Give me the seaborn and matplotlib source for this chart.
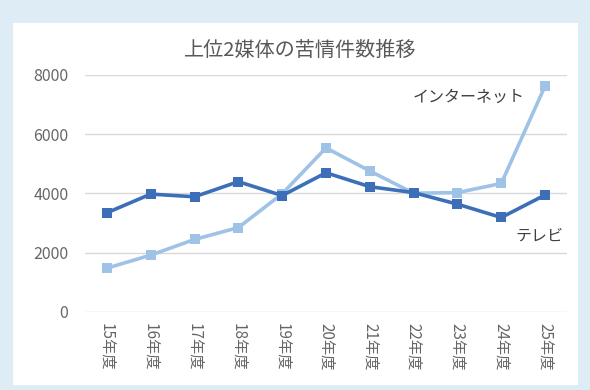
import pandas as pd
import matplotlib.pyplot as plt
import matplotlib.patches as patches
import seaborn as sns

# データ
years = ["15年度", "16年度", "17年度", "18年度", "19年度", "20年度",
         "21年度", "22年度", "23年度", "24年度", "25年度"]
tv = [3350, 3980, 3890, 4400, 3930, 4700, 4230, 4030, 3640, 3190, 3950]
internet = [1480, 1920, 2450, 2850, 3990, 5540, 4760, 4010, 4030, 4340, 7630]

df = pd.DataFrame({
    "年度": years * 2,
    "件数": tv + internet,
    "媒体": ["テレビ"] * len(years) + ["インターネット"] * len(years),
})

sns.set_theme(style="white")
plt.rcParams["font.family"] = ["Noto Sans CJK JP", "DejaVu Sans"]

fig = plt.figure(figsize=(5.9, 3.9), dpi=100)
fig.patch.set_facecolor("#deedf5")
panel = patches.Rectangle((13 / 590, 1 - 385 / 390), 565 / 590, 362 / 390,
                          transform=fig.transFigure, facecolor="white",
                          edgecolor="none", zorder=-10)
fig.add_artist(panel)

ax = fig.add_axes([85 / 590, 0.2, 482 / 590, 0.6077])
ax.set_facecolor("none")

sns.lineplot(data=df, x="年度", y="件数", hue="媒体",
             hue_order=["インターネット", "テレビ"],
             palette={"インターネット": "#9fc2e7", "テレビ": "#3d6fb8"},
             marker="s", markersize=6.5, markeredgewidth=0, linewidth=2.6,
             legend=False, ax=ax)

ax.set_xlim(-0.5, len(years) - 0.5)
ax.set_ylim(0, 8000)
ax.set_yticks([0, 2000, 4000, 6000, 8000])
ax.yaxis.grid(True, color="#d9d9d9", linewidth=1)
for s in ax.spines.values():
    s.set_visible(False)
ax.set_xlabel("")
ax.set_ylabel("")
ax.tick_params(axis="y", labelsize=11.5, labelcolor="#666666", length=0, pad=12)
ax.tick_params(axis="x", labelsize=11, labelcolor="#666666", length=0, pad=8)
plt.setp(ax.get_xticklabels(), rotation=270, va="top", ha="center")

fig.text(300 / 590, 1 - 50 / 390, "上位2媒体の苦情件数推移", fontsize=14.5,
         color="#595959", ha="center", va="center")

ax.text(6.97, 7260, "インターネット", fontsize=11.5, color="#404040", va="center")
ax.text(9.32, 2560, "テレビ", fontsize=11.5, color="#404040", va="center")

plt.savefig("out.png", dpi=100)
